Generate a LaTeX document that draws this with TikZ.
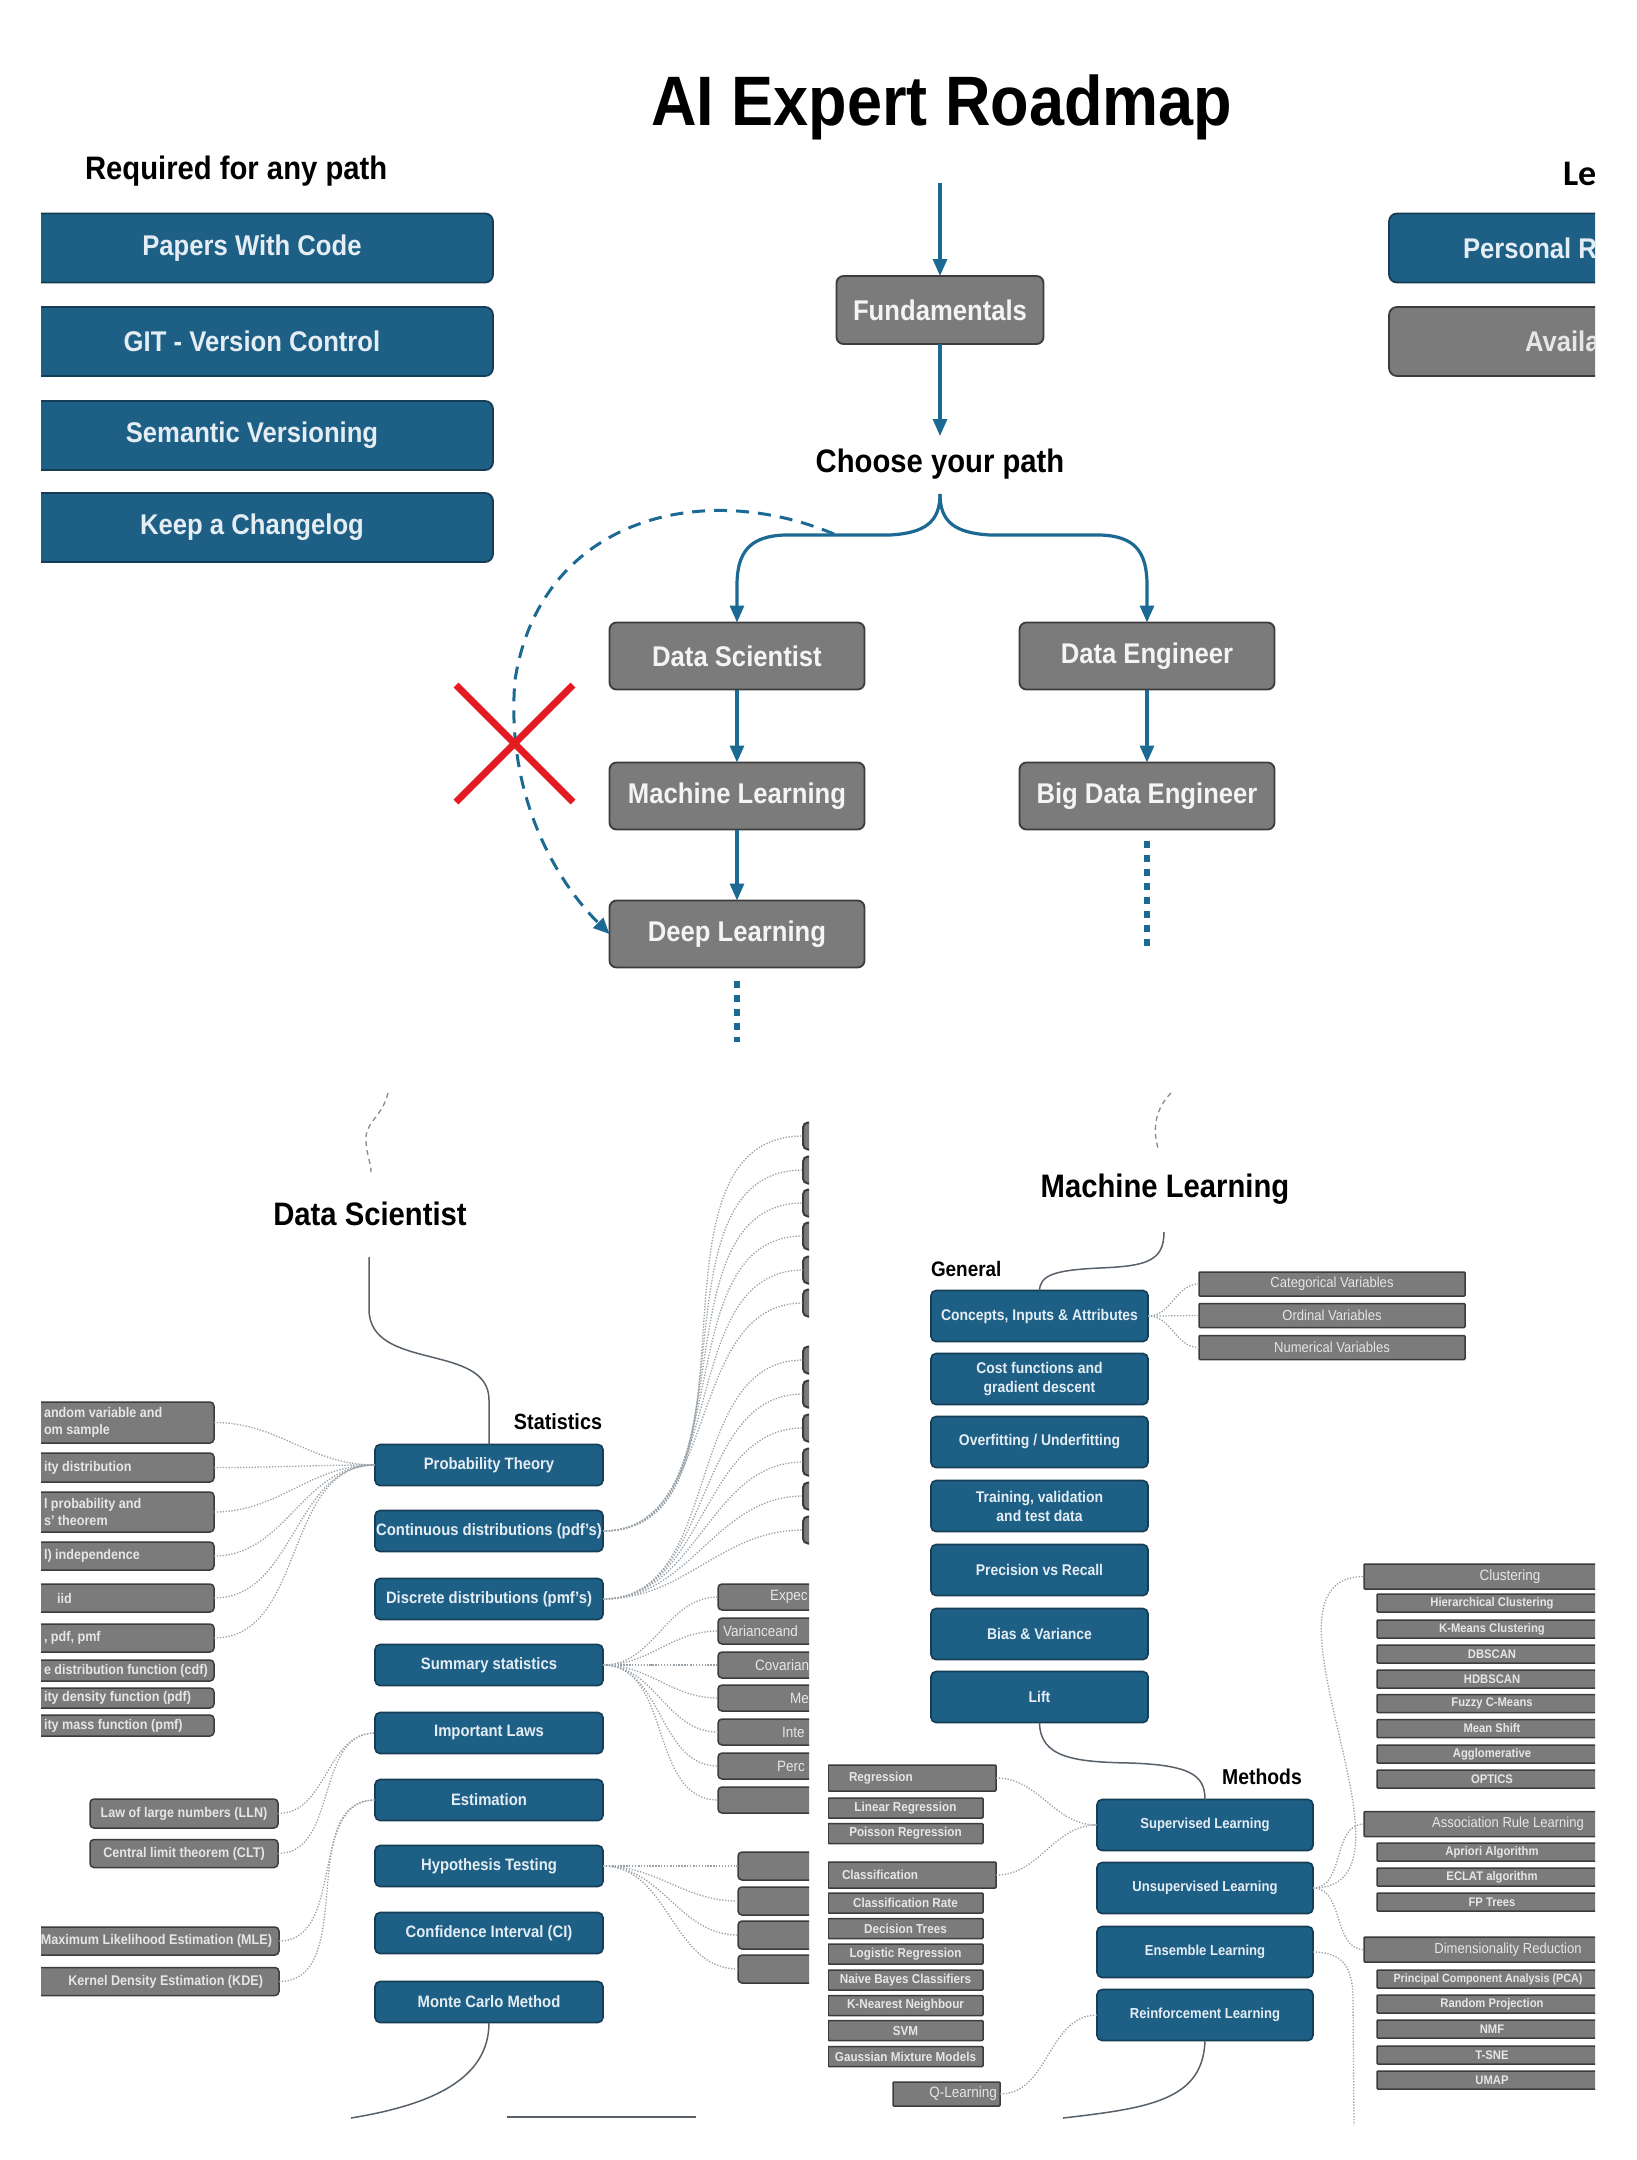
\documentclass[tikz,border=0pt]{standalone}
\usepackage{fontspec}
\setmainfont{Liberation Sans}[FakeStretch=0.9]
\newfontfamily\legfont{Carlito}
\usetikzlibrary{arrows.meta}
\definecolor{cblue}{HTML}{1E5F86}
\definecolor{cblueD}{HTML}{153D55}
\definecolor{cgray}{HTML}{7B7B7B}
\definecolor{cgrayD}{HTML}{3C3C3C}
\definecolor{carrow}{HTML}{1C6994}
\definecolor{cred}{HTML}{E51B24}
\definecolor{ctxtb}{HTML}{E3EDF3}
\definecolor{ctxtw}{HTML}{F4F4F4}
\definecolor{ctxtg}{HTML}{E6E6E6}
\definecolor{cdot}{HTML}{98A2A8}
\definecolor{csol}{HTML}{58616A}
\definecolor{csq}{HTML}{8A8A8A}
\newcommand\fsz[2]{\fontsize{#1}{#2}\selectfont}
\begin{document}
\begin{tikzpicture}[x=1pt,y=-1pt,
 every node/.style={inner sep=0pt,outer sep=0pt},
 arr/.style={draw=carrow,line width=3.2pt,-{Triangle[length=17pt,width=14pt]}},
 dashA/.style={draw=carrow,line width=3pt,dash pattern=on 13pt off 9pt,-{Triangle[length=16pt,width=14pt]}},
 dotsB/.style={draw=carrow,line width=6pt,dash pattern=on 7pt off 7pt},
 xred/.style={draw=cred,line width=7pt},
 topbox/.style={draw=cgrayD,fill=cgray,line width=1.8pt,rounded corners=7pt,minimum width=255pt,minimum height=67pt,text=ctxtw,font=\bfseries\fsz{28.5}{34}},
 reqbox/.style={draw=cblueD,fill=cblue,line width=1.8pt,rounded corners=8pt,minimum width=482pt,minimum height=69pt,text=ctxtb,font=\bfseries\fsz{28.5}{34}},
 sbox/.style={draw=cblueD,fill=cblue,line width=1.6pt,rounded corners=5pt,minimum width=228pt,minimum height=41pt,text=ctxtb,font=\bfseries\fsz{16.5}{20},align=center},
 mbox/.style={sbox,minimum width=217pt,minimum height=51pt,font=\bfseries\fsz{15.5}{19}},
 gbox/.style={draw=cgrayD,fill=cgray,line width=1.5pt,rounded corners=4pt,text=ctxtg,font=\bfseries\fsz{14}{17},align=center},
 gtext/.style={text=ctxtg,font=\bfseries\fsz{14}{17},align=center},
 ltext/.style={text=ctxtg,font=\bfseries\fsz{14}{17},align=left,anchor=west},
 rtext/.style={text=ctxtg,font=\fsz{15}{18}},
 dotc/.style={draw=cdot,line width=1.3pt,dash pattern=on 1.3pt off 1.6pt},
 solidc/.style={draw=csol,line width=1.5pt},
 sqg/.style={draw=csq,line width=1.3pt,dash pattern=on 5pt off 4pt},
 ttl/.style={font=\bfseries\fsz{32.5}{38}},
 hdr/.style={font=\bfseries\fsz{22}{26}},
]
\useasboundingbox (0,0) rectangle (1637,2160);
\fill[white] (0,0) rectangle (1637,2160);

% ================= TOP =================
\begin{scope}
\clip (41,0) rectangle (1595,1060);
\node[font=\bfseries\fsz{70}{80}] (title) at (942,107) {AI Expert Roadmap};
\node[ttl,anchor=west] (req) at (85,171) {Required for any path};
\node[reqbox] (p1) at (252,248) {Papers With Code};
\node[reqbox] (p2) at (252,341.5) {GIT - Version Control};
\node[reqbox] (p3) at (252,435.5) {Semantic Versioning};
\node[reqbox] (p4) at (252,527.5) {Keep a Changelog};

% legend (cut by the right edge of the picture)
\node[font=\legfont\bfseries\fsz{36}{40},anchor=west] (leg) at (1563,174) {Le};
\node[reqbox] (lg1) at (1630,248) {};
\node[text=ctxtb,font=\bfseries\fsz{28.5}{34},anchor=west] (lg1t) at (1463,248) {Personal R};
\node[reqbox,draw=cgrayD,fill=cgray] (lg2) at (1630,341.5) {};
\node[text=ctxtg,font=\bfseries\fsz{28.5}{34},anchor=west] (lg2t) at (1525,341.5) {Availa};

\coordinate (topS) at (940,183);
\node[topbox,minimum width=207pt,minimum height=68pt] (fund) at (940,310) {Fundamentals};
\draw[arr] (topS) -- (fund.north);
\node[ttl] (choose) at (940,464) {Choose your path};
\coordinate (chA) at (940,436);
\draw[arr] (fund.south) -- (chA);
\coordinate (apex) at (940,494);

\node[topbox] (ds) at (737,656) {Data Scientist};
\node[topbox] (de) at (1147,656) {Data Engineer};
\node[topbox] (mlb) at (737,796) {Machine Learning};
\node[topbox] (bde) at (1147,796) {Big Data Engineer};
\node[topbox] (dlb) at (737,934) {Deep Learning};

\draw[arr] (apex) .. controls (940,522) and (925,533) .. (890,535) -- (785,535) .. controls (750,536) and (737,552) .. (737,585) -- (ds.north);
\draw[arr] (apex) .. controls (940,522) and (955,533) .. (990,535) -- (1100,535) .. controls (1135,536) and (1147,552) .. (1147,585) -- (de.north);
\draw[arr] (ds.south) -- (mlb.north);
\draw[arr] (mlb.south) -- (dlb.north);
\draw[arr] (de.south) -- (bde.north);

\coordinate (dlE) at (737,1042);
\draw[dotsB] ([yshift=-13pt]dlb.south) -- (dlE);
\coordinate (bdeE) at (1147,946);
\draw[dotsB] ([yshift=-11pt]bde.south) -- (bdeE);

\coordinate (dashS) at (834,534);
\draw[dashA] (dashS) .. controls (700,478) and (540,520) .. (515,680) .. controls (505,800) and (560,885) .. (dlb.west);
\draw[xred] (456,685) -- (573,802) (573,685) -- (456,802);
\end{scope}

% ================= DATA SCIENTIST PANEL =================
\begin{scope}
\clip (41,1060) rectangle (809,2160);
\draw[sqg] (388,1093) .. controls (382,1118) and (364,1122) .. (366,1142) .. controls (367,1156) and (371,1163) .. (371,1172);
\node[ttl] (dsT) at (370,1214) {Data Scientist};
\node[hdr] (statL) at (558,1422) {Statistics};

\node[sbox] (pt) at (489,1465) {Probability Theory};
\node[sbox] (cd) at (489,1531) {Continuous distributions (pdf's)};
\node[sbox] (dd) at (489,1599) {Discrete distributions (pmf's)};
\node[sbox] (ss) at (489,1665) {Summary statistics};
\node[sbox] (il) at (489,1733) {Important Laws};
\node[sbox] (es) at (489,1800) {Estimation};
\node[sbox] (ht) at (489,1866) {Hypothesis Testing};
\node[sbox] (ci) at (489,1933) {Confidence Interval (CI)};
\node[sbox] (mc) at (489,2002) {Monte Carlo Method};

\coordinate (dsS) at (369,1257);
\draw[solidc] (dsS) -- (369,1309) .. controls (369,1372) and (489,1342) .. (489,1400) -- (pt.north);
\coordinate (mcE) at (351,2118);
\draw[solidc] (mc.south) .. controls (489,2080) and (430,2105) .. (mcE);
\draw[draw=csol,line width=2.5pt] (507,2117) -- (696,2117);

% left column (cut by the left edge of the picture)
\node[gbox,minimum width=214pt,minimum height=41pt] (l1) at (107,1422.5) {};
\node[gbox,minimum width=214pt,minimum height=29pt] (l2) at (107,1467.5) {};
\node[gbox,minimum width=214pt,minimum height=40pt] (l3) at (107,1512) {};
\node[gbox,minimum width=214pt,minimum height=28pt] (l4) at (107,1556) {};
\node[gbox,minimum width=214pt,minimum height=28pt] (l5) at (107,1598) {};
\node[gbox,minimum width=214pt,minimum height=28pt] (l6) at (107,1638) {};
\node[gbox,minimum width=214pt,minimum height=21pt] (l7) at (107,1670.5) {};
\node[gbox,minimum width=214pt,minimum height=20pt] (l8) at (107,1698) {};
\node[gbox,minimum width=214pt,minimum height=21pt] (l9) at (107,1725.5) {};
\node[ltext] (l1t) at (44,1422.5) {andom variable and\\om sample};
\node[ltext] (l2t) at (44,1467.5) {ity distribution};
\node[ltext] (l3t) at (44,1512) {l probability and\\s' theorem};
\node[ltext] (l4t) at (44,1556) {l) independence};
\node[ltext] (l5t) at (57,1598) {iid};
\node[ltext] (l6t) at (44,1638) {, pdf, pmf};
\node[ltext] (l7t) at (44,1670.5) {e distribution function (cdf)};
\node[ltext] (l8t) at (44,1698) {ity density function (pdf)};
\node[ltext] (l9t) at (44,1725.5) {ity mass function (pmf)};
\foreach \n in {l1,l2,l3,l4,l5,l6}
  \draw[dotc] (\n.east) to[out=0,in=180] (pt.west);

\node[gbox,minimum width=188pt,minimum height=29pt] (lln) at (184,1813.5) {Law of large numbers (LLN)};
\node[gbox,minimum width=188pt,minimum height=28pt] (clt) at (184,1853.5) {Central limit theorem (CLT)};
\draw[dotc] (lln.east) to[out=0,in=180] (il.west);
\draw[dotc] (clt.east) to[out=0,in=180] (il.west);
\node[gbox,minimum width=279pt,minimum height=28pt] (mle) at (139.5,1941) {};
\node[gbox,minimum width=279pt,minimum height=28pt] (kde) at (139.5,1981.5) {};
\node[gtext,anchor=east] (mlet) at (272,1941) {Maximum Likelihood Estimation (MLE)};
\node[gtext,anchor=east] (kdet) at (263,1981.5) {Kernel Density Estimation (KDE)};
\draw[dotc] (mle.east) to[out=0,in=180] (es.west);
\draw[dotc] (kde.east) to[out=0,in=180] (es.west);

% right column (cut by the panel edge)
\foreach \n/\yy in {r1/1136,r2/1170,r3/1203,r4/1236,r5/1270,r6/1303}{
  \node[gbox,line width=2pt,rounded corners=5pt,minimum width=200pt,minimum height=27pt] (\n) at (903,\yy) {};
  \draw[dotc] (cd.east) to[out=0,in=180] (\n.west);}
\foreach \n/\yy in {q1/1360,q2/1394,q3/1428,q4/1462,q5/1496,q6/1530}{
  \node[gbox,line width=2pt,rounded corners=5pt,minimum width=200pt,minimum height=27pt] (\n) at (903,\yy) {};
  \draw[dotc] (dd.east) to[out=0,in=180] (\n.west);}
\foreach \n/\yy in {s1/1597,s2/1631,s3/1665,s4/1698,s5/1732,s6/1766,s7/1800}{
  \node[gbox,minimum width=200pt,minimum height=26pt] (\n) at (818,\yy) {};
  \draw[dotc] (ss.east) to[out=0,in=180] (\n.west);}
\node[rtext,anchor=west] (s1t) at (770,1597) {Expec};
\node[rtext,anchor=west] (s2t) at (723,1631) {Varianceand};
\node[rtext,anchor=west] (s3t) at (755,1665) {Covarian};
\node[rtext,anchor=west] (s4t) at (790,1698) {Me};
\node[rtext,anchor=west] (s5t) at (782,1732) {Inte};
\node[rtext,anchor=west] (s6t) at (777,1766) {Perc};
\foreach \n/\yy in {h1/1866,h2/1901,h3/1935,h4/1969}{
  \node[gbox,minimum width=200pt,minimum height=28pt] (\n) at (838,\yy) {};
  \draw[dotc] (ht.east) to[out=0,in=180] (\n.west);}
\end{scope}

% ================= MACHINE LEARNING PANEL =================
\begin{scope}
\clip (828,1060) rectangle (1595,2160);
\draw[sqg] (1171,1093) .. controls (1156,1108) and (1152,1128) .. (1158,1148);
\node[ttl] (mlT) at (1165,1189) {Machine Learning};
\node[font=\bfseries\fsz{21}{25},anchor=west] (gen) at (931,1269) {General};

\node[mbox] (c1) at (1039.5,1316) {Concepts, Inputs \& Attributes};
\node[mbox] (c2) at (1039.5,1379) {Cost functions and\\gradient descent};
\node[mbox] (c3) at (1039.5,1442) {Overfitting / Underfitting};
\node[mbox] (c4) at (1039.5,1506) {Training, validation\\and test data};
\node[mbox] (c5) at (1039.5,1570) {Precision vs Recall};
\node[mbox] (c6) at (1039.5,1634) {Bias \& Variance};
\node[mbox] (c7) at (1039.5,1697) {Lift};
\coordinate (mlS) at (1164,1232);
\draw[solidc] (mlS) .. controls (1164,1262) and (1145,1266) .. (1100,1268) .. controls (1055,1270) and (1040,1275) .. (c1.north);

\foreach \n/\yy/\tx in {v1/1284/Categorical Variables,v2/1315.5/Ordinal Variables,v3/1347.5/Numerical Variables}{
  \node[gbox,rounded corners=1pt,minimum width=266pt,minimum height=24pt,font=\fsz{14.5}{17}] (\n) at (1332,\yy) {\tx};
  \draw[dotc] (c1.east) to[out=0,in=180] (\n.west);}

\node[hdr,font=\bfseries\fsz{21.5}{25}] (meth) at (1262,1777) {Methods};
\node[mbox,minimum width=216pt,font=\bfseries\fsz{14.5}{18}] (m1) at (1205,1825) {Supervised Learning};
\node[mbox,minimum width=216pt,font=\bfseries\fsz{14.5}{18}] (m2) at (1205,1888) {Unsupervised Learning};
\node[mbox,minimum width=216pt,font=\bfseries\fsz{14.5}{18}] (m3) at (1205,1952) {Ensemble Learning};
\node[mbox,minimum width=216pt,font=\bfseries\fsz{14.5}{18}] (m4) at (1205,2015) {Reinforcement Learning};
\draw[solidc] (c7.south) .. controls (1040,1758) and (1075,1762) .. (1130,1763) .. controls (1190,1765) and (1205,1775) .. (m1.north);
\coordinate (rlE) at (1063,2118);
\draw[solidc] (m4.south) .. controls (1203,2100) and (1150,2108) .. (rlE);

% supervised children
\node[gbox,rounded corners=1pt,minimum width=168pt,minimum height=26pt] (reg) at (912,1778) {};
\node[gtext,font=\bfseries\fsz{13}{15},anchor=west] (regt) at (849,1778) {Regression};
\node[gbox,rounded corners=1pt,minimum width=168pt,minimum height=26pt] (cls) at (912,1875) {};
\node[gtext,font=\bfseries\fsz{13}{15},anchor=west] (clst) at (842,1875) {Classification};
\foreach \n/\yy/\tx in {lr/1808/Linear Regression,pr/1833.5/Poisson Regression,cr/1903/Classification Rate,dt/1928.5/Decision Trees,lgr/1954/Logistic Regression,nb/1980/Naive Bayes Classifiers,kn/2005.5/K-Nearest Neighbour,svm/2030.5/SVM,gmm/2056.5/Gaussian Mixture Models}
  \node[gbox,rounded corners=1pt,minimum width=155pt,minimum height=20pt,font=\bfseries\fsz{13}{15}] (\n) at (905.5,\yy) {\tx};
\draw[dotc] (reg.east) to[out=0,in=180] (m1.west);
\draw[dotc] (cls.east) to[out=0,in=180] (m1.west);
\node[gbox,rounded corners=1pt,minimum width=107pt,minimum height=24pt] (ql) at (946.5,2094) {};
\node[rtext,anchor=east] (qlt) at (997,2094) {Q-Learning};
\draw[dotc] (ql.east) to[out=0,in=180] (m4.west);

% unsupervised children
\node[gbox,rounded corners=1pt,minimum width=292pt,minimum height=25pt] (clu) at (1510,1576.5) {};
\node[gbox,rounded corners=1pt,minimum width=292pt,minimum height=25pt] (asr) at (1510,1824) {};
\node[gbox,rounded corners=1pt,minimum width=292pt,minimum height=25pt] (dim) at (1510,1949.5) {};
\node[rtext] (clut) at (1510,1576.5) {Clustering};
\node[rtext,font=\fsz{14.5}{17}] (asrt) at (1508,1824) {Association Rule Learning};
\node[rtext,font=\fsz{14.5}{17}] (dimt) at (1508,1949.5) {Dimensionality Reduction};
\foreach \n/\yy/\tx in {u1/1603/Hierarchical Clustering,u2/1629/K-Means Clustering,u3/1654/DBSCAN,u4/1679/HDBSCAN,u5/1703.5/Fuzzy C-Means,u6/1728.5/Mean Shift,u7/1754/Agglomerative,u8/1779/OPTICS,a1/1852/Apriori Algorithm,a2/1877/ECLAT algorithm,a3/1902/FP Trees,d2/2004/Random Projection,d3/2029/NMF,d4/2055/T-SNE,d5/2080/UMAP}
  \node[gbox,rounded corners=1pt,minimum width=230pt,minimum height=18pt,font=\bfseries\fsz{12.5}{14}] (\n) at (1492,\yy) {\tx};
\node[gbox,rounded corners=1pt,minimum width=230pt,minimum height=18pt] (d1) at (1492,1979) {};
\node[gtext,font=\bfseries\fsz{12}{14}] (d1t) at (1488,1979) {Principal Component Analysis (PCA)};
\draw[dotc] (m2.east) to[out=0,in=180] (clu.west);
\draw[dotc] (m2.east) to[out=0,in=180] (asr.west);
\draw[dotc] (m2.east) to[out=0,in=180] (dim.west);
\coordinate (ensE) at (1354,2125);
\draw[dotc] (m3.east) .. controls (1345,1952) and (1353,1970) .. (1353,2000) -- (ensE);
\end{scope}
\end{tikzpicture}
\end{document}
